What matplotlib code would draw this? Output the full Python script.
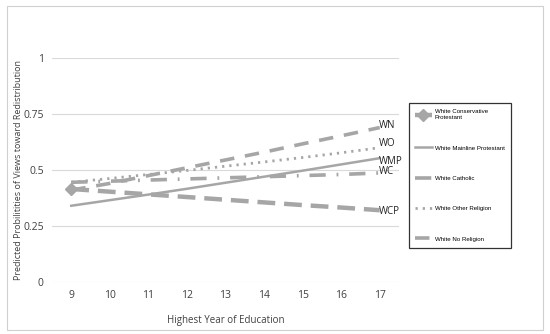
import matplotlib.pyplot as plt
import matplotlib as mpl
from matplotlib.patches import Rectangle
from matplotlib import font_manager

years = [9, 10, 11, 12, 13, 14, 15, 16, 17]

wcp = [0.415, 0.403, 0.391, 0.379, 0.367, 0.355, 0.343, 0.332, 0.320]
wmp = [0.340, 0.365, 0.390, 0.416, 0.443, 0.470, 0.497, 0.525, 0.553]
wc = [0.445, 0.450, 0.455, 0.460, 0.465, 0.470, 0.475, 0.480, 0.487]
wo = [0.445, 0.462, 0.480, 0.498, 0.517, 0.536, 0.556, 0.577, 0.600]
wn = [0.410, 0.440, 0.475, 0.510, 0.545, 0.580, 0.617, 0.653, 0.690]

names = ['White Conservative\nProtestant', 'White Mainline Protestant',
         'White Catholic', 'White Other Religion', 'White No Religion']
tags = ['WCP', 'WMP', 'WC', 'WO', 'WN']

mpl.rcParams['font.family'] = ['Open Sans', 'DejaVu Sans']

grey = '#A6A6A6'
txt = '#404040'

fig = plt.figure(figsize=(5.5, 3.34), dpi=100)
fig.patches.append(Rectangle((0.012, 0.012), 0.976, 0.97, transform=fig.transFigure,
                             fill=False, edgecolor='#D0D0D0', linewidth=0.8))
ax = fig.add_axes([0.0945, 0.1566, 0.631, 0.6688])

ax.plot(years, wcp, color=grey, lw=3.2, dashes=(4, 2), marker='D', markevery=[0],
        markersize=6, label=names[0])
ax.plot(years, wmp, color=grey, lw=1.8, label=names[1])
ax.plot(years, wc, color=grey, lw=2.6, dashes=(4.5, 3, 0.5, 3), label=names[2])
ax.plot(years, wo, color=grey, lw=2.0, dashes=(0.8, 1.8), label=names[3])
ax.plot(years, wn, color=grey, lw=2.6, dashes=(4, 3), label=names[4])

# series tags at the right end
ends = [(0.315, tags[0]), (0.536, tags[1]), (0.492, tags[2]), (0.62, tags[3]), (0.70, tags[4])]
for yv, t in ends:
    ax.text(16.98, yv, t, fontsize=7, color='#222222', va='center', ha='left')

ax.set_xlim(8.5, 17.5)
ax.set_ylim(0, 1)
ax.set_xticks(years)
ax.set_yticks([0, 0.25, 0.5, 0.75, 1])
ax.set_yticklabels(['0', '0.25', '0.5', '0.75', '1'])
ax.grid(axis='y', color='#D9D9D9', lw=0.8)
ax.set_axisbelow(True)
for s in ax.spines.values():
    s.set_visible(False)
ax.tick_params(length=0, labelsize=7.5, colors=txt, pad=6)

ax.set_xlabel('Highest Year of Education', fontsize=7, color=txt, labelpad=10)
ax.set_ylabel('Predicted Probilitities of Views toward Redistribution', fontsize=6.5,
              color=txt, labelpad=0)

legfont = font_manager.FontProperties(family=['Liberation Sans Narrow', 'Liberation Sans'],
                                      stretch='condensed', size=4.4)
leg = fig.legend(loc='upper left', bbox_to_anchor=(0.738, 0.700),
                 frameon=True, fancybox=False, edgecolor='black', handlelength=2.7,
                 handletextpad=0.5, labelspacing=4.1, borderpad=1.0, numpoints=1,
                 prop=legfont)
leg.get_frame().set_linewidth(0.9)

plt.savefig('out.png', dpi=100)
